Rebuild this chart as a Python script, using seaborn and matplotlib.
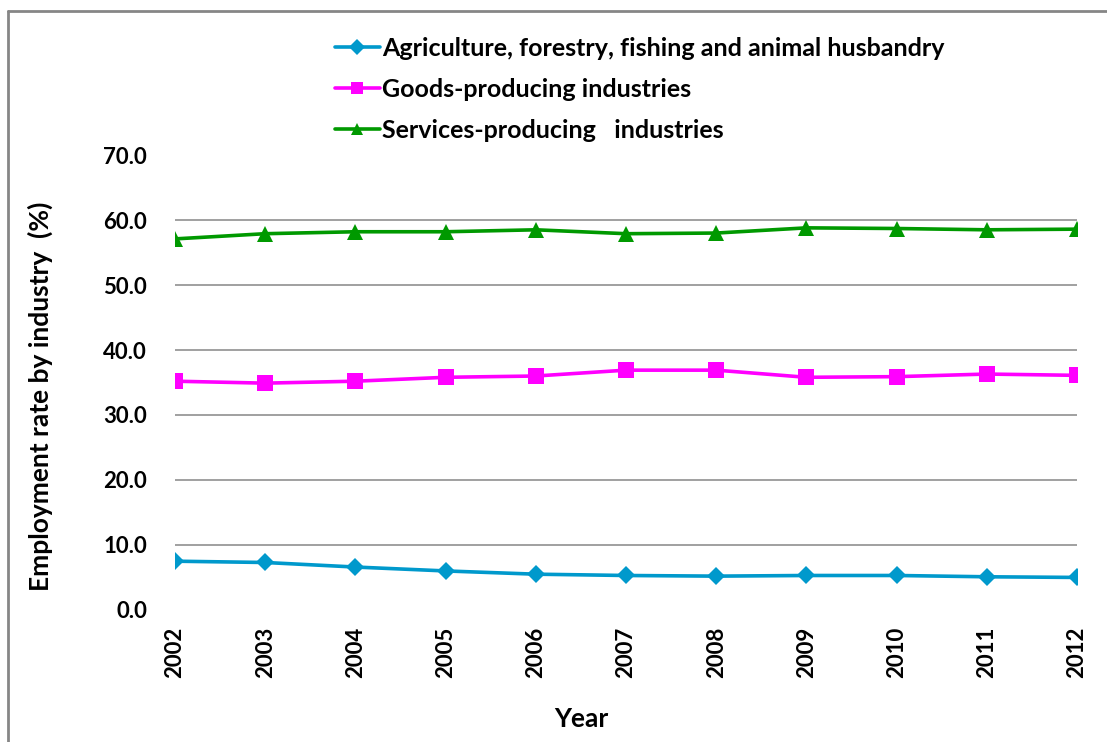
import matplotlib
matplotlib.use("Agg")
import matplotlib.pyplot as plt
import matplotlib.lines as mlines
import seaborn as sns
import pandas as pd

years = [2002, 2003, 2004, 2005, 2006, 2007, 2008, 2009, 2010, 2011, 2012]
agriculture = [7.5, 7.3, 6.6, 6.0, 5.5, 5.3, 5.2, 5.3, 5.3, 5.1, 5.0]
goods = [35.2, 34.9, 35.2, 35.8, 36.0, 36.9, 36.9, 35.8, 35.9, 36.3, 36.1]
services = [57.1, 57.9, 58.2, 58.2, 58.5, 57.9, 58.0, 58.8, 58.7, 58.5, 58.6]

series_names = [
    "Agriculture, forestry, fishing and animal husbandry",
    "Goods-producing industries",
    "Services-producing   industries",
]
colors = ["#0099CC", "#FF00FF", "#009900"]
markers = ["D", "s", "^"]
marker_sizes = [9, 11, 11]
y_ticks = [0, 10, 20, 30, 40, 50, 60, 70]

df = pd.concat([
    pd.DataFrame({"Year": years, "Rate": vals, "Industry": name})
    for name, vals in zip(series_names, [agriculture, goods, services])
])

sns.set_theme(style="white")
plt.rcParams["font.family"] = ["Lato", "DejaVu Sans"]
plt.rcParams["text.color"] = "black"
plt.rcParams["axes.labelcolor"] = "black"
plt.rcParams["xtick.color"] = "black"
plt.rcParams["ytick.color"] = "black"

fig = plt.figure(figsize=(11.07, 7.42), dpi=100)
ax = fig.add_axes([0.158, 0.178, 0.815, 0.613])

for name, col, mk, ms in zip(series_names, colors, markers, marker_sizes):
    sub = df[df["Industry"] == name]
    sns.lineplot(data=sub, x="Year", y="Rate", ax=ax, color=col, marker=mk,
                 markersize=ms, markeredgewidth=0, linewidth=2.6, legend=False,
                 zorder=3)

ax.set_xlim(years[0], years[-1])
ax.set_ylim(0, 70)
ax.set_yticks(y_ticks)
ax.set_yticklabels([f"{v:.1f}" for v in y_ticks], fontsize=16, fontweight="bold")
ax.set_xticks(years)
ax.set_xticklabels([str(y) for y in years], rotation=90, fontsize=16,
                   fontweight="bold")
ax.tick_params(axis="y", pad=20, length=0)
ax.tick_params(axis="x", pad=12, length=0)

for v in y_ticks[1:-1]:
    ax.axhline(v, color="#868686", linewidth=1.1, zorder=1)
for s in ax.spines.values():
    s.set_visible(False)

ax.set_xlabel("Year", fontsize=19, fontweight="bold")
ax.xaxis.set_label_coords(0.451, -0.213)
ax.set_ylabel("Employment rate by industry  (%)", fontsize=19, fontweight="bold")
ax.yaxis.set_label_coords(-0.135, 0.47)

handles = [
    mlines.Line2D([], [], color=c, marker=m, markersize=ms * 0.85,
                  markeredgewidth=0, linewidth=2.6, label=n)
    for n, c, m, ms in zip(series_names, colors, markers, marker_sizes)
]
fig.legend(handles=handles, loc="upper left", bbox_to_anchor=(0.3026, 0.950),
           frameon=False, handlelength=1.8, handletextpad=0.1,
           labelspacing=0.72, borderpad=0, borderaxespad=0,
           prop={"weight": "bold", "size": 18})

# frame lines along the top and left of the figure
fig.add_artist(mlines.Line2D([8 / 1107, 1.0], [1 - 11 / 742, 1 - 11 / 742],
                             color="#868686", linewidth=2, transform=fig.transFigure))
fig.add_artist(mlines.Line2D([8 / 1107, 8 / 1107], [0.0, 1 - 11 / 742],
                             color="#868686", linewidth=2, transform=fig.transFigure))

fig.savefig("out.png", dpi=100)
